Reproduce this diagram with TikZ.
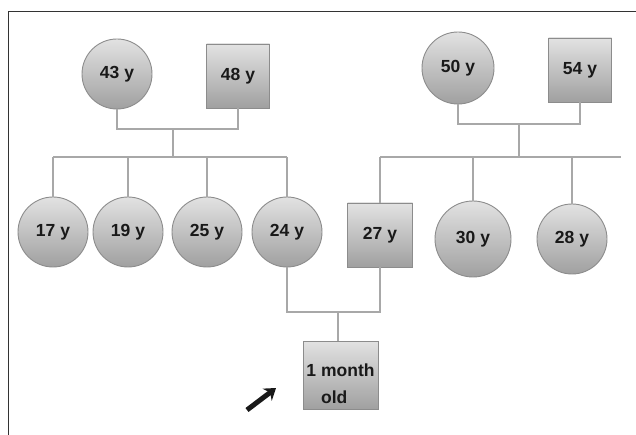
\documentclass[tikz,border=0pt]{standalone}
\usepackage{fontspec}
\setmainfont{Liberation Sans}
\usetikzlibrary{arrows.meta}
\definecolor{linegray}{HTML}{A8A8A8}
\definecolor{edgegray}{HTML}{8C8C8C}
\definecolor{filltop}{HTML}{E2E2E2}
\definecolor{fillbot}{HTML}{A0A0A0}
\tikzset{
  person/.style={draw=edgegray, line width=0.9pt, top color=filltop, bottom color=fillbot,
     font=\fontsize{17.5}{21}\selectfont\bfseries, text=black!90},
  female/.style={person, circle, minimum size=70pt, inner sep=0pt},
  male/.style={person, rectangle, minimum width=63pt, minimum height=64pt, inner sep=0pt},
  conn/.style={draw=linegray, line width=1.2pt},
  frame/.style={draw=black!80, line width=0.9pt},
  pointer/.style={line width=5pt, black!90, -{Stealth[length=11pt,width=15pt]}}
}
\begin{document}
\begin{tikzpicture}[x=1pt,y=-1pt]
\useasboundingbox (0,0) rectangle (636,435);
% frame
\coordinate (ftop) at (636,11);
\coordinate (fcorner) at (8,11);
\coordinate (fbot) at (8,435);
\draw[frame] (ftop) -- (fcorner) -- (fbot);
% left grandparents
\node[female] (m1) at (117,74) {43 y};
\node[male] (f1) at (238,76) {48 y};
% right grandparents
\node[female, minimum size=72pt] (m2) at (458,68) {50 y};
\node[male] (f2) at (580,70) {54 y};
% children
\node[female] (c17) at (53,232) {17 y};
\node[female] (c19) at (128,232) {19 y};
\node[female] (c25) at (207,232) {25 y};
\node[female] (c24) at (287,232) {24 y};
\node[male, minimum width=65pt] (c27) at (380,235) {27 y};
\node[female, minimum size=76pt] (c30) at (473,239) {30 y};
\node[female] (c28) at (572,239) {28 y};
% proband
\node[male, minimum width=75pt, minimum height=68pt] (baby) at (340.5,375) {};
\node[font=\fontsize{17.5}{27}\selectfont\bfseries, text=black!90, align=left, inner sep=0pt]
   (babytxt) at ([yshift=-9pt]baby.center) {1 month\\\hphantom{1 }old};
% junctions
\coordinate (j1) at (173,129);
\coordinate (s1) at (173,157);
\coordinate (j2) at (519,124);
\coordinate (s2) at (519,157);
\coordinate (e2) at (621,157);
\coordinate (j3) at (338,312);
% marriages
\draw[conn] (m1.south) -- (m1.south |- j1) -- (f1.south |- j1) -- (f1.south);
\draw[conn] (j1) -- (s1);
\draw[conn] (c17.north |- s1) -- (c24.north |- s1);
\foreach \c in {c17,c19,c25,c24} \draw[conn] (\c.north) -- (\c.north |- s1);
\draw[conn] (m2.south) -- (m2.south |- j2) -- (f2.south |- j2) -- (f2.south);
\draw[conn] (j2) -- (s2);
\draw[conn] (c27.north |- s2) -- (e2);
\foreach \c in {c27,c30,c28} \draw[conn] (\c.north) -- (\c.north |- s2);
\draw[conn] (c24.south) -- (c24.south |- j3) -- (c27.south |- j3) -- (c27.south);
\draw[conn] (j3) -- (baby.north -| j3);
% arrow
\coordinate (atail) at (247,410);
\coordinate (ahead) at (276,388);
\draw[pointer] (atail) -- (ahead);
\end{tikzpicture}
\end{document}
